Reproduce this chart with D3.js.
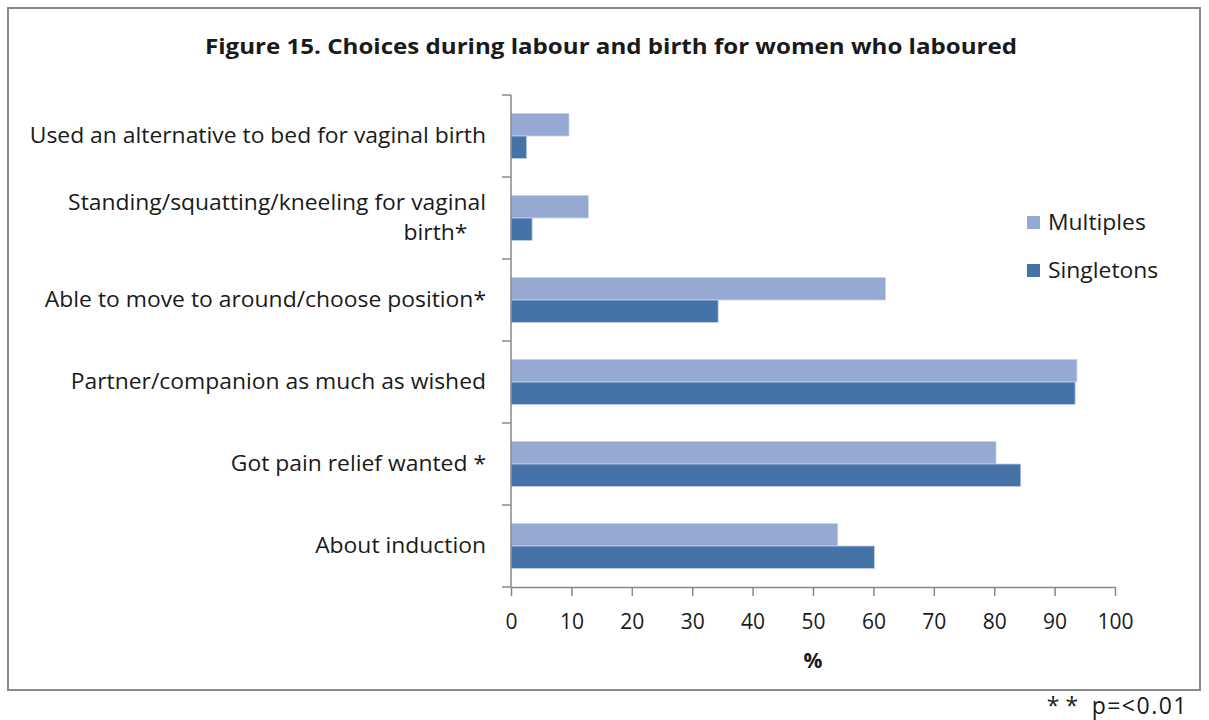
<!DOCTYPE html>
<html>
<head>
<meta charset="utf-8">
<script src="https://cdn.jsdelivr.net/npm/d3@7"></script>
<style>
  body { margin: 0; background: #fff; }
  text { font-family: "Open Sans", Lato, sans-serif; fill: #1a1a1a; }
</style>
</head>
<body>
<div id="chart"></div>
<script>
const width = 1209, height = 720;

// Data
const categories = [
    "Used an alternative to bed for vaginal birth",
    "Standing/squatting/kneeling for vaginal|birth*",
    "Able to move to around/choose position*",
    "Partner/companion as much as wished",
    "Got pain relief wanted *",
    "About induction"
];
const seriesNames = ["Multiples", "Singletons"];
const multiples = [9.6, 12.8, 62.0, 93.7, 80.3, 54.1];
const singletons = [2.6, 3.5, 34.3, 93.4, 84.4, 60.2];
const xTicks = [0, 10, 20, 30, 40, 50, 60, 70, 80, 90, 100];

const colors = {Multiples: "#95a9d2", Singletons: "#4573a7"};
const plot = {left: 511, right: 1115, top: 95, bottom: 587};
const stretch = 1.09; // source text looks horizontally stretched

const svg = d3.select('#chart').append('svg')
    .attr('width', width)
    .attr('height', height);

// outer frame
svg.append("rect")
    .attr("x", 8).attr("y", 8)
    .attr("width", 1192).attr("height", 682)
    .attr("fill", "none")
    .attr("stroke", "#8a8a8a")
    .attr("stroke-width", 2);

// title (fit to the same width as the source)
svg.append("text")
    .attr("x", 611).attr("y", 54)
    .attr("text-anchor", "middle")
    .attr("font-size", 21)
    .attr("font-weight", 700)
    .attr("textLength", 812)
    .attr("lengthAdjust", "spacingAndGlyphs")
    .text("Figure 15. Choices during labour and birth for women who laboured");

const x = d3.scaleLinear()
    .domain([0, 100])
    .range([plot.left, plot.right]);

const y = d3.scaleBand()
    .domain(categories)
    .range([plot.top, plot.bottom])
    .paddingInner(0.45)
    .paddingOuter(0.225);

const ySub = d3.scaleBand()
    .domain(seriesNames)
    .range([0, y.bandwidth()]);

const rows = categories.map((c, i) => ({cat: c, Multiples: multiples[i], Singletons: singletons[i]}));

// bars
const groups = svg.append("g")
    .selectAll("g")
    .data(rows)
    .enter().append("g")
    .attr("transform", d => `translate(0,${y(d.cat)})`);

groups.selectAll("rect")
    .data(d => seriesNames.map(s => ({series: s, value: d[s]})))
    .enter().append("rect")
    .attr("x", x(0))
    .attr("y", d => ySub(d.series))
    .attr("width", d => x(d.value) - x(0))
    .attr("height", ySub.bandwidth())
    .attr("fill", d => colors[d.series])
    .attr("stroke", "#c5d3ea")
    .attr("stroke-width", 0.8);

// bottom axis
const xAxis = svg.append("g")
    .attr("transform", `translate(0,${plot.bottom})`)
    .call(d3.axisBottom(x).tickValues(xTicks).tickSize(9).tickSizeOuter(0));
xAxis.select(".domain").attr("stroke", "#888").attr("stroke-width", 1.5);
xAxis.selectAll(".tick line").attr("stroke", "#888").attr("stroke-width", 1.5);
xAxis.selectAll(".tick text")
    .attr("y", 27)
    .attr("font-size", 21)
    .attr("font-family", "'Open Sans', sans-serif")
    .attr("fill", "#1a1a1a");

// left axis: line plus ticks at category boundaries
const leftAxis = svg.append("g");
leftAxis.append("line")
    .attr("x1", plot.left).attr("x2", plot.left)
    .attr("y1", plot.top).attr("y2", plot.bottom)
    .attr("stroke", "#888").attr("stroke-width", 1.5);
leftAxis.selectAll(".cat-tick")
    .data(d3.range(categories.length + 1))
    .enter().append("line")
    .attr("x1", plot.left - 9).attr("x2", plot.left)
    .attr("y1", i => plot.top + i * y.step())
    .attr("y2", i => plot.top + i * y.step())
    .attr("stroke", "#888").attr("stroke-width", 1.5);

// category labels (| marks a line break)
const labels = svg.append("g")
    .selectAll("text")
    .data(categories)
    .enter().append("text")
    .attr("font-size", 21)
    .attr("text-anchor", "end")
    .attr("transform", d => `translate(486,${y(d) + y.bandwidth() / 2}) scale(${stretch},1)`);

labels.each(function(d) {
    const lines = d.split("|");
    const t = d3.select(this);
    lines.forEach((ln, i) => {
        t.append("tspan")
            .attr("x", i === 0 ? 0 : -17)
            .attr("y", (i - (lines.length - 1) / 2) * 31 + 7)
            .text(ln);
    });
});

// x axis title
svg.append("text")
    .attr("x", (plot.left + plot.right) / 2)
    .attr("y", 668)
    .attr("text-anchor", "middle")
    .attr("font-size", 21)
    .attr("font-weight", 700)
    .text("%");

// legend
const legend = svg.append("g")
    .selectAll("g")
    .data(seriesNames)
    .enter().append("g")
    .attr("transform", (d, i) => `translate(1027,${216 + i * 48})`);
legend.append("rect")
    .attr("width", 13).attr("height", 13)
    .attr("fill", d => colors[d]);
legend.append("text")
    .attr("transform", `translate(21,14) scale(${stretch},1)`)
    .attr("font-size", 21)
    .text(d => d);

// footnote
const note = svg.append("text")
    .attr("x", 1188).attr("y", 714)
    .attr("text-anchor", "end")
    .attr("font-size", 23)
    .attr("font-family", "DejaVu Sans, sans-serif");
note.append("tspan").attr("letter-spacing", 6).text("**");
note.append("tspan").attr("letter-spacing", 1.5).text(" p=<0.01");
</script>
</body>
</html>
